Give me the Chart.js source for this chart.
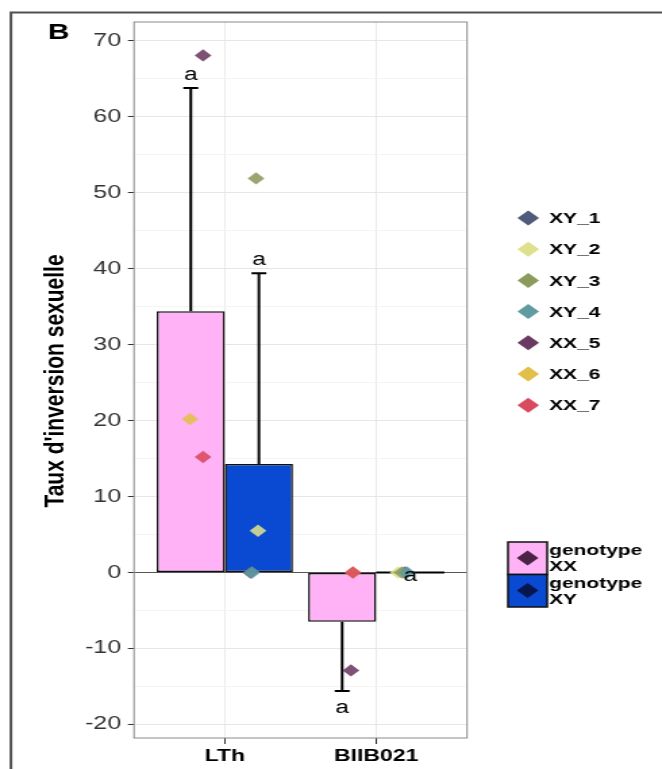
<!DOCTYPE html>
<html>
<head>
<meta charset="utf-8">
<script src="https://cdn.jsdelivr.net/npm/chart.js@4.4.0/dist/chart.umd.min.js"></script>
<style>
  html, body { margin: 0; padding: 0; background: #fff; overflow: hidden; }
  /* la figure d'origine est étirée horizontalement */
  #wrap { width: 490px; height: 769px; transform: scaleX(1.351); transform-origin: 0 0; }
  canvas { display: block; }
</style>
</head>
<body>
<div id="wrap"><canvas id="chart" width="490" height="769"></canvas></div>
<script>
// Données
const categories = ['LTh', 'BIIB021'];
const meanXX = [34.4, -6.5];
const meanXY = [14.3, 0];
const sdXX = [29.4, 9.1];
const sdXY = [25.1, 0];
const lettersXX = ['a', 'a'];
const lettersXY = ['a', 'a'];
const letterYXX = [65.5, -17.9];
const letterYXY = [41.1, -0.5];

// points individuels (losanges)
const pointNames = ['XY_1', 'XY_2', 'XY_3', 'XY_4', 'XX_5', 'XX_6', 'XX_7'];
const pointColors = ['#4f5b7c', '#dde08c', '#8c9a5c', '#5f9ba0', '#6b3a62', '#e2bf4a', '#d94a5e'];
const pointsLTh = [0, 5.5, 51.9, 0, 68.1, 20.2, 15.2];
const pointsBIIB = [0, 0, 0, 0, -12.9, 0, 0];
const xLTh = [0.17, 0.219, 0.206, 0.179, -0.144, -0.230, -0.144];
const xBIIB = [1.19, 1.144, 1.17, 1.203, 0.833, 0.846, 0.846];

const yTicksMajor = 10;
const dodge = 0.225;
const FONT = 'Liberation Sans, Arial, sans-serif';

function hexA(hex, a) {
    const n = parseInt(hex.slice(1), 16);
    return 'rgba(' + (n >> 16) + ',' + ((n >> 8) & 255) + ',' + (n & 255) + ',' + a + ')';
}

function diamond(ctx, x, y, rw, rh, color) {
    ctx.beginPath();
    ctx.moveTo(x, y - rh);
    ctx.lineTo(x + rw, y);
    ctx.lineTo(x, y + rh);
    ctx.lineTo(x - rw, y);
    ctx.closePath();
    ctx.fillStyle = color;
    ctx.fill();
}

// les dernières séries passent au-dessus (comme ggplot)
const pointSets = pointNames.map((name, i) => ({
    type: 'scatter',
    label: name,
    data: [{ x: xLTh[i], y: pointsLTh[i] }, { x: xBIIB[i], y: pointsBIIB[i] }],
    pointStyle: 'rectRot',
    pointRadius: 6.2,
    pointBorderWidth: 0,
    backgroundColor: hexA(pointColors[i], 0.88),
    order: 1 + (pointNames.length - i) / 10
}));

const barSets = [
    {
        type: 'bar',
        label: 'genotype XX',
        data: categories.map((c, i) => ({ x: i, y: meanXX[i] })),
        backgroundColor: '#ffb2f6',
        borderColor: '#111',
        borderWidth: 1.5,
        borderSkipped: false,
        categoryPercentage: 0.9,
        barPercentage: 1,
        order: 5
    },
    {
        type: 'bar',
        label: 'genotype XY',
        data: categories.map((c, i) => ({ x: i, y: meanXY[i] })),
        backgroundColor: '#0a4ad2',
        borderColor: '#111',
        borderWidth: 1.5,
        borderSkipped: false,
        categoryPercentage: 0.9,
        barPercentage: 1,
        order: 5
    }
];

// barres d'erreur, lettres, légendes, cadre
const decor = {
    id: 'decor',
    beforeDraw(chart) {
        const ctx = chart.ctx;
        ctx.save();
        ctx.fillStyle = '#fff';
        ctx.fillRect(0, 0, chart.width, chart.height);
        ctx.restore();
    },
    beforeDatasetsDraw(chart) {
        const ctx = chart.ctx;
        const a = chart.chartArea;
        const xs = chart.scales.x, ys = chart.scales.y;
        ctx.save();
        ctx.strokeStyle = '#8a8a8a';
        ctx.lineWidth = 1;
        ctx.strokeRect(a.left, a.top, a.right - a.left, a.bottom - a.top);

        ctx.strokeStyle = '#000';
        ctx.lineWidth = 2;
        const groups = [[meanXX, sdXX, -dodge], [meanXY, sdXY, dodge]];
        groups.forEach(([means, sds, off]) => {
            categories.forEach((c, i) => {
                const cx = xs.getPixelForValue(i + off);
                const m = means[i];
                const end = m + (m < 0 ? -1 : 1) * sds[i];
                const y0 = ys.getPixelForValue(m), y1 = ys.getPixelForValue(end);
                ctx.beginPath();
                ctx.moveTo(cx, y0);
                ctx.lineTo(cx, y1);
                ctx.moveTo(cx - 5.5, y1);
                ctx.lineTo(cx + 5.5, y1);
                // barre de hauteur nulle : seul le contour reste visible
                if (m === 0) {
                    ctx.moveTo(xs.getPixelForValue(i + off - dodge), y0);
                    ctx.lineTo(xs.getPixelForValue(i + off + dodge), y0);
                }
                ctx.stroke();
            });
        });
        ctx.restore();
    },
    afterDatasetsDraw(chart) {
        const ctx = chart.ctx;
        const xs = chart.scales.x, ys = chart.scales.y;
        ctx.save();
        ctx.fillStyle = '#000';
        ctx.textAlign = 'center';
        ctx.textBaseline = 'middle';
        ctx.font = '18px ' + FONT;
        categories.forEach((c, i) => {
            ctx.fillText(lettersXX[i], xs.getPixelForValue(i - dodge), ys.getPixelForValue(letterYXX[i]));
            ctx.fillText(lettersXY[i], xs.getPixelForValue(i + dodge), ys.getPixelForValue(letterYXY[i]));
        });

        // titre de l'axe y
        ctx.save();
        ctx.translate(41.5, 381);
        ctx.rotate(-Math.PI / 2);
        ctx.font = 'bold 21px ' + FONT;
        ctx.fillText("Taux d'inversion sexuelle", 0, 0);
        ctx.restore();

        // lettre du panneau
        ctx.textAlign = 'left';
        ctx.textBaseline = 'alphabetic';
        ctx.font = 'bold 22px ' + FONT;
        ctx.fillText('B', 35.5, 38.5);

        // légende des individus
        ctx.textBaseline = 'middle';
        ctx.font = 'bold 15.5px ' + FONT;
        pointNames.forEach((name, i) => {
            const y = 218 + i * 31.2;
            diamond(ctx, 391, y, 8, 7.5, pointColors[i]);
            ctx.fillStyle = '#000';
            ctx.fillText(name, 406.5, y + 1);
        });

        // légende des génotypes
        const keys = [['#ffb2f6', '#4b2344', 'XX'], ['#0a4ad2', '#08164f', 'XY']];
        keys.forEach(([fill, inner, g], k) => {
            const top = 542 + k * 32.5;
            ctx.fillStyle = fill;
            ctx.fillRect(376, top, 29, 32.5);
            ctx.strokeStyle = '#111';
            ctx.lineWidth = 1.5;
            ctx.strokeRect(376, top, 29, 32.5);
            diamond(ctx, 390.5, top + 16, 8, 7.5, inner);
            ctx.fillStyle = '#000';
            ctx.fillText('genotype', 406.5, top + 9);
            ctx.fillText(g, 406.5, top + 25);
        });

        // cadre extérieur
        ctx.strokeStyle = '#505050';
        ctx.lineWidth = 2;
        ctx.beginPath();
        ctx.moveTo(8.1, 769);
        ctx.lineTo(8.1, 12.5);
        ctx.lineTo(490, 12.5);
        ctx.stroke();
        ctx.restore();
    }
};

new Chart(document.getElementById('chart').getContext('2d'), {
    type: 'bar',
    data: { datasets: [...pointSets, ...barSets] },
    plugins: [decor],
    options: {
        responsive: false,
        animation: false,
        devicePixelRatio: 1,
        layout: { padding: { top: 22, right: 144.3, left: 0, bottom: 0 } },
        plugins: { legend: { display: false }, tooltip: { enabled: false } },
        scales: {
            x: {
                type: 'linear',
                min: -0.6,
                max: 1.6,
                offset: false,
                afterBuildTicks: s => { s.ticks = categories.map((c, i) => ({ value: i })); },
                afterFit: s => { s.height = 31; },
                ticks: {
                    callback: (v, i) => categories[i],
                    autoSkip: false,
                    maxRotation: 0,
                    padding: 2,
                    color: '#000',
                    font: { family: FONT, size: 17, weight: 'bold' }
                },
                grid: { offset: false, color: '#ebebeb', tickColor: '#333', tickLength: 6, lineWidth: 1 },
                border: { display: false }
            },
            y: {
                type: 'linear',
                min: -21.8,
                max: 72.5,
                afterFit: s => { s.width = 99.2; },
                ticks: {
                    stepSize: 5,
                    includeBounds: false,
                    padding: 5,
                    color: '#333',
                    font: { family: FONT, size: 18.5 },
                    callback: v => (Math.round(v) % yTicksMajor === 0 ? String(Math.round(v)) : '')
                },
                grid: {
                    lineWidth: 1,
                    tickLength: 4.5,
                    color: c => {
                        const v = c.tick ? Math.round(c.tick.value) : 1;
                        if (v === 0) return '#555';
                        return v % yTicksMajor === 0 ? '#e6e6e6' : '#f4f4f4';
                    },
                    tickColor: c => {
                        const v = c.tick ? Math.round(c.tick.value) : 1;
                        return v % yTicksMajor === 0 ? '#333' : 'rgba(0,0,0,0)';
                    }
                },
                border: { display: false }
            }
        }
    }
});
</script>
</body>
</html>
